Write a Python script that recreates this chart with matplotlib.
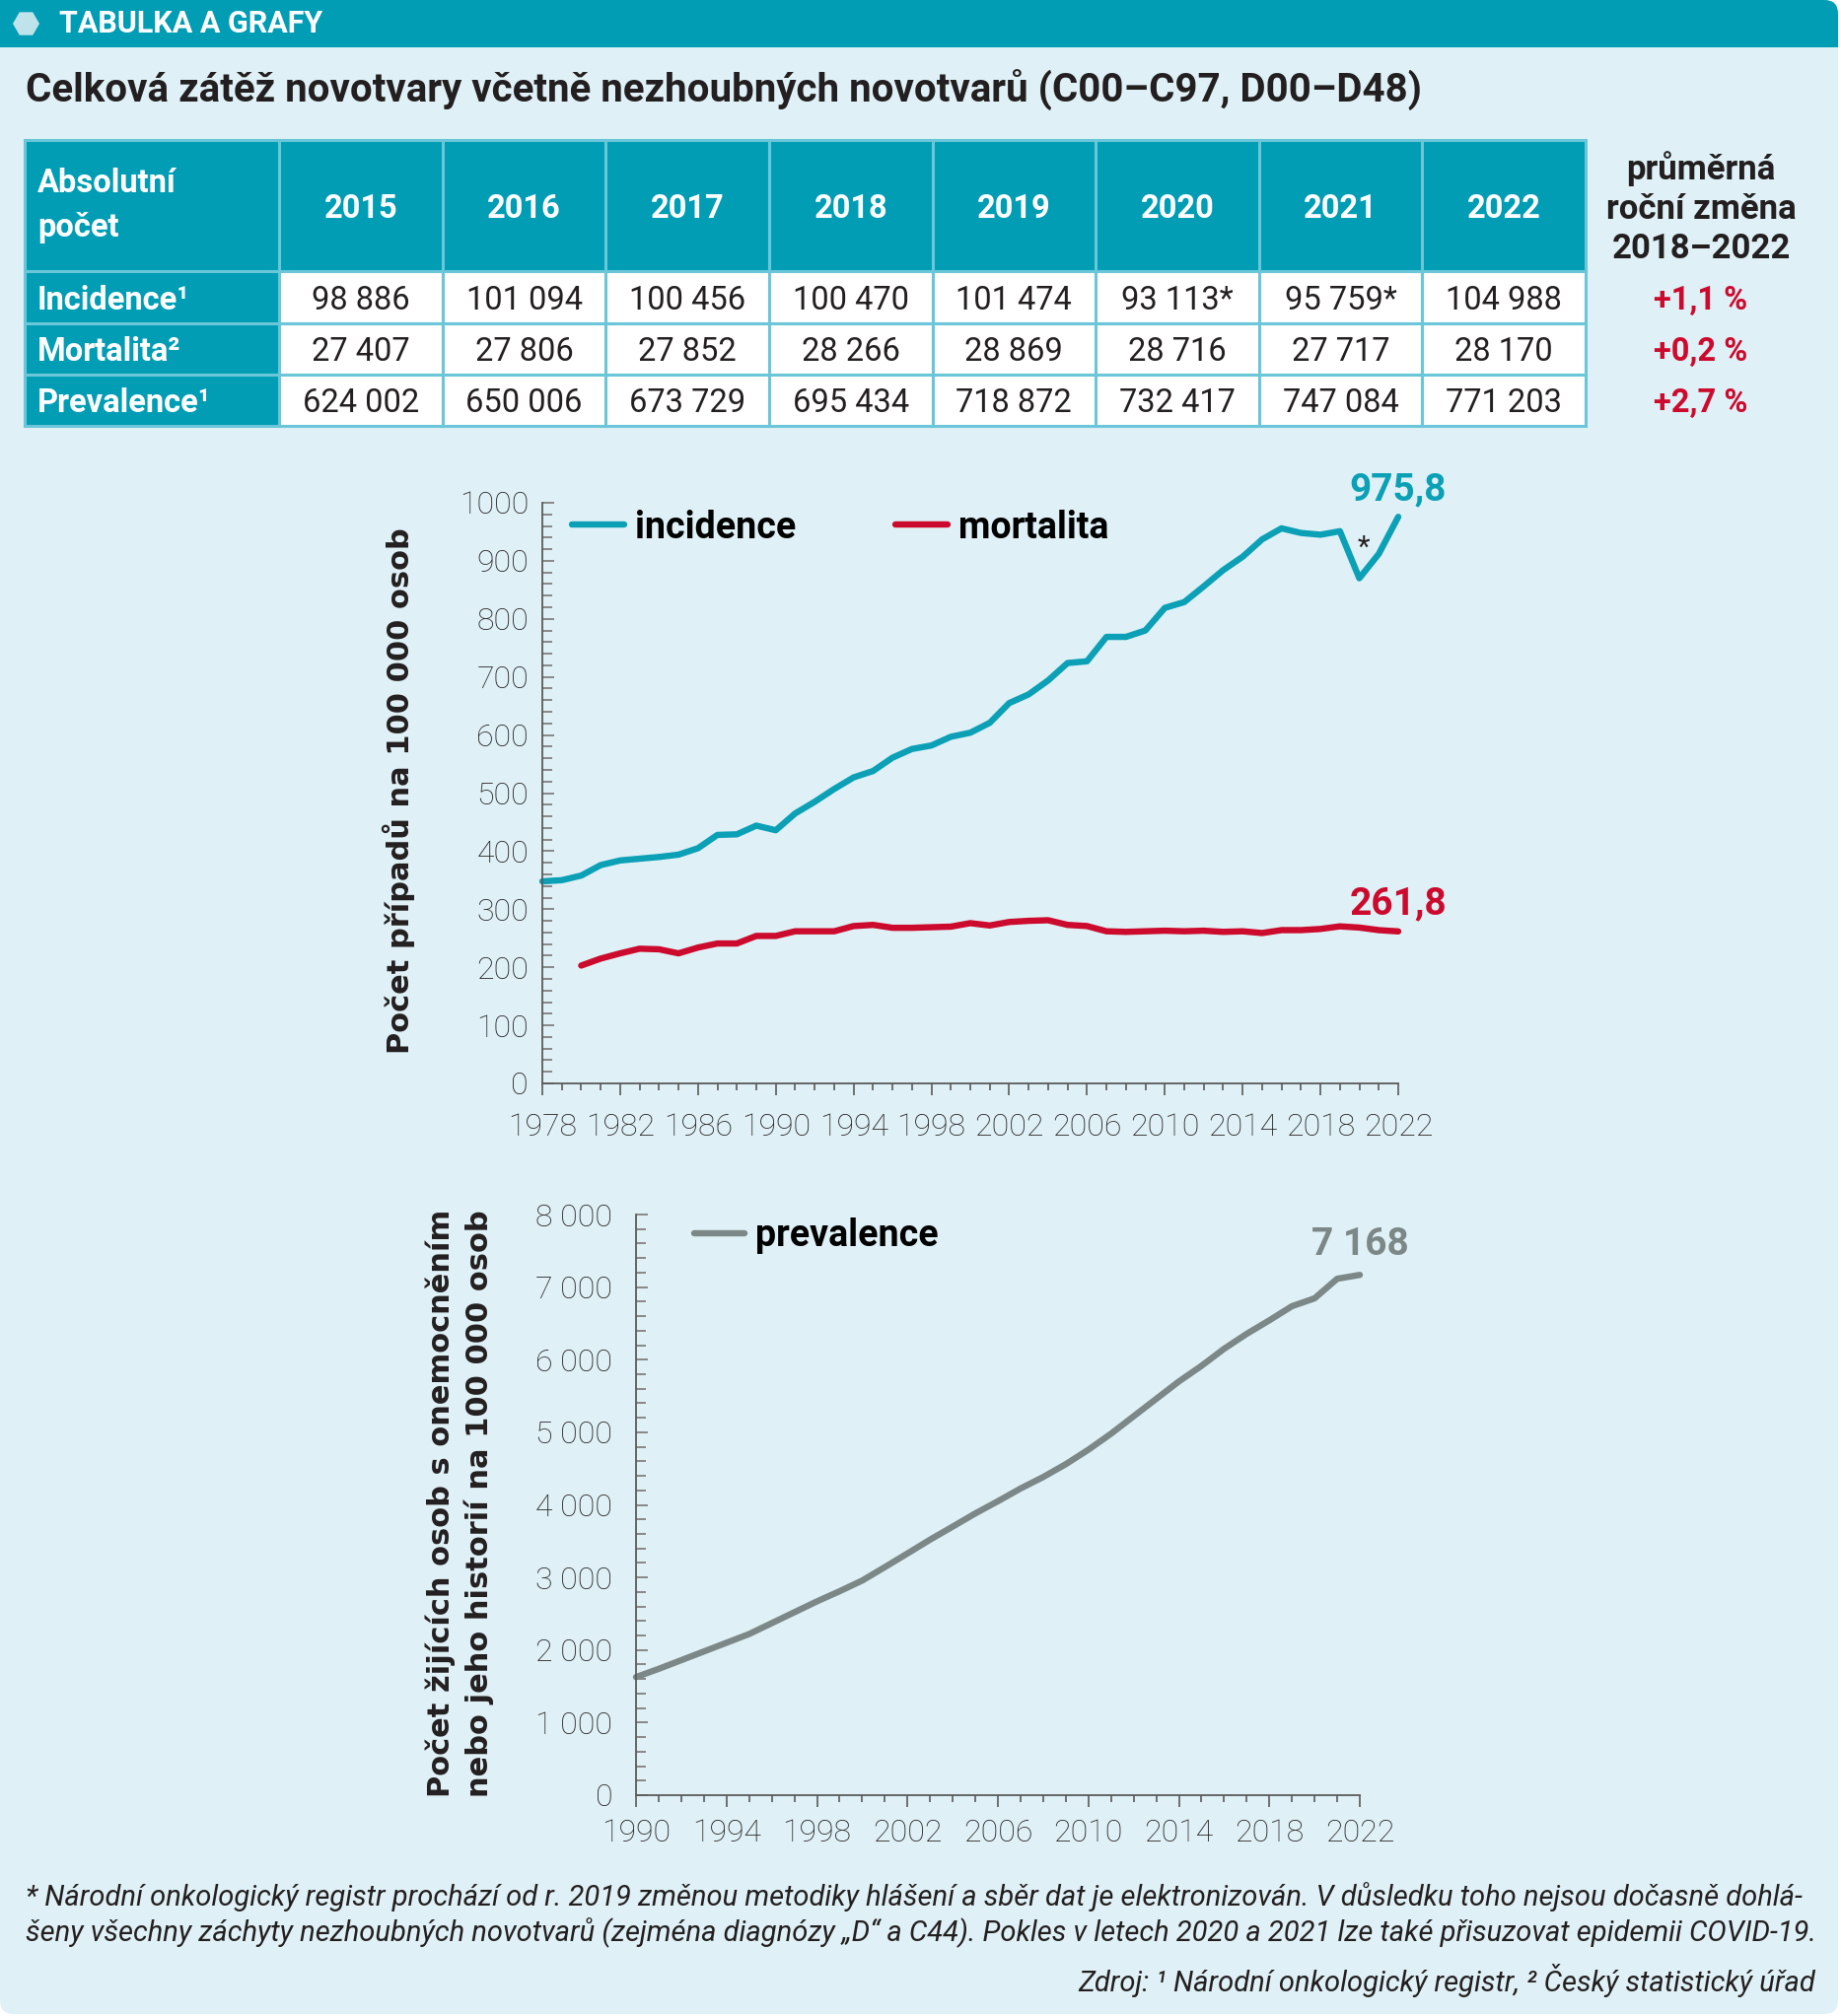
import matplotlib
matplotlib.use("Agg")
import matplotlib.pyplot as plt
from matplotlib.patches import FancyBboxPatch, Rectangle, RegularPolygon
from matplotlib.ticker import MultipleLocator, FuncFormatter
import numpy as np

plt.rcParams['font.family'] = ['Roboto', 'DejaVu Sans']

# -------------------------------------------------------------
# Data
# -------------------------------------------------------------
table_years = ['2015', '2016', '2017', '2018', '2019', '2020', '2021', '2022']
row_labels = ['Incidence¹', 'Mortalita²', 'Prevalence¹']
incidence_abs = ['98 886', '101 094', '100 456', '100 470', '101 474', '93 113*', '95 759*', '104 988']
mortality_abs = ['27 407', '27 806', '27 852', '28 266', '28 869', '28 716', '27 717', '28 170']
prevalence_abs = ['624 002', '650 006', '673 729', '695 434', '718 872', '732 417', '747 084', '771 203']
avg_change = ['+1,1 %', '+0,2 %', '+2,7 %']

years_inc = list(range(1978, 2023))
incidence = [348, 350, 358, 376, 384, 387, 390, 394, 405, 428,
             429, 444, 436, 465, 485, 507, 527, 538, 561, 576,
             582, 597, 604, 621, 655, 670, 694, 724, 727, 769,
             769, 780, 819, 829, 856, 884, 907, 937, 956, 948,
             945, 951, 870, 912, 975.8]

years_mort = list(range(1980, 2023))
mortality = [203, 215, 224, 232, 231, 224, 234, 241, 241, 254,
             254, 262, 262, 262, 271, 273, 268, 268, 269, 270,
             276, 272, 278, 280, 281, 273, 271, 262, 261, 262,
             263, 262, 263, 261, 262, 259, 264, 264, 266, 270.5,
             268.4, 264, 261.8]

years_prev = list(range(1990, 2023))
prevalence = [1627, 1740, 1860, 1980, 2100, 2220, 2370, 2520, 2670, 2810,
              2957, 3142, 3330, 3520, 3700, 3882, 4050, 4225, 4383, 4560,
              4760, 4980, 5220, 5460, 5700, 5915, 6150, 6356, 6542, 6737,
              6845, 7115, 7168]

# -------------------------------------------------------------
# Style
# -------------------------------------------------------------
TEAL = '#009DB5'
TEAL_LINE = '#0BA0B6'
RED = '#CC0A2D'
GRAY = '#7C8787'
BG = '#DFF1F6'
BORDER = '#6AC6D8'
DARK = '#231F20'
AXC = '#5a5a5a'

W, H = 1867, 2045
fig = plt.figure(figsize=(W / 100, H / 100), dpi=100)
fig.patch.set_facecolor('white')


def fx(px):
    return px / W


def fy(py):
    return 1 - py / H


# panel + header bar (inches), kept behind the axes
deco = dict(transform=fig.dpi_scale_trans, ec='none', zorder=-10)
fig.add_artist(FancyBboxPatch((0.0, 0.02), 18.64, 20.43,
                              boxstyle="round,pad=0,rounding_size=0.14", fc=BG, **deco))
fig.add_artist(FancyBboxPatch((0.0, 20.45 - 0.48), 18.64, 0.48,
                              boxstyle="round,pad=0,rounding_size=0.14", fc=TEAL, **deco))
fig.add_artist(Rectangle((0.0, 20.45 - 0.48), 18.4, 0.48, fc=TEAL, **deco))
fig.add_artist(Rectangle((0.0, 20.45 - 0.48), 18.64, 0.2, fc=TEAL, **deco))
fig.add_artist(RegularPolygon((0.265, 20.45 - 0.24), 6, radius=0.135, orientation=np.pi / 6,
                              transform=fig.dpi_scale_trans, fc='#BFE3EA', ec='none', zorder=-9))
fig.text(fx(60), fy(24), 'TABULKA A GRAFY', color='white', fontsize=22,
         fontweight='bold', va='center', ha='left')

fig.text(fx(26), fy(91), 'Celková zátěž novotvary včetně nezhoubných novotvarů (C00–C97, D00–D48)',
         color=DARK, fontsize=29, fontweight='bold', va='center', ha='left')

# -------------------------------------------------------------
# Table
# -------------------------------------------------------------
tax = fig.add_axes([0, 0, 1, 1])
tax.set_xlim(0, 1)
tax.set_ylim(0, 1)
tax.axis('off')

cell_text = [['Absolutní\npočet'] + table_years]
for lab, vals in zip(row_labels, [incidence_abs, mortality_abs, prevalence_abs]):
    cell_text.append([lab] + vals)

col_px = [284 - 25] + [166.2] * 8
tbl = tax.table(cellText=cell_text, colWidths=[c / W for c in col_px], cellLoc='center',
                bbox=[fx(25), fy(432), (1608 - 25) / W, (432 - 142) / H])
tbl.auto_set_font_size(False)
for (r, c), cell in tbl.get_celld().items():
    cell.set_edgecolor(BORDER)
    cell.set_linewidth(2.2)
    cell.set_height(133 if r == 0 else 52)
    txt = cell.get_text()
    txt.set_fontsize(23.5)
    if r == 0 or c == 0:
        cell.set_facecolor(TEAL)
        txt.set_color('white')
        txt.set_fontweight('bold')
    else:
        cell.set_facecolor('white')
        txt.set_color(DARK)
    if c == 0:
        cell._loc = 'left'
        cell.PAD = 0.05
        txt.set_ha('left')
    if r == 0 and c == 0:
        txt.set_linespacing(1.5)
    else:
        txt.set_va('center_baseline')

for i, line in enumerate(['průměrná', 'roční změna', '2018–2022']):
    fig.text(fx(1725), fy(171 + i * 41), line, color=DARK, fontsize=25,
             fontweight='bold', ha='center', va='center')
for i, val in enumerate(avg_change):
    fig.text(fx(1725), fy(305 + i * 52), val, color=RED, fontsize=23.5,
             fontweight='bold', ha='center', va='center')


def style_axis(ax):
    ax.set_facecolor('none')
    for s in ['top', 'right']:
        ax.spines[s].set_visible(False)
    for s in ['left', 'bottom']:
        ax.spines[s].set_color(AXC)
        ax.spines[s].set_linewidth(1.3)
    ax.tick_params(axis='y', which='major', direction='in', length=8.5, width=1.3, color='#808080')
    ax.tick_params(axis='y', which='minor', direction='in', length=7, width=1.3, color='#808080')
    ax.tick_params(axis='x', which='major', direction='out', length=8.6, width=1.2, color=AXC)
    ax.tick_params(axis='x', which='minor', direction='out', length=5, width=1.2, color=AXC)
    ax.tick_params(labelsize=23, labelcolor=DARK)
    for lab in ax.get_xticklabels() + ax.get_yticklabels():
        lab.set_fontweight('light')


# -------------------------------------------------------------
# Chart 1: incidence & mortality
# -------------------------------------------------------------
ax1 = fig.add_axes([fx(550), fy(1099), (1418 - 550) / W, (1099 - 510) / H])
ax1.plot(years_inc, incidence, color=TEAL_LINE, lw=4.6, label='incidence',
         clip_on=False, solid_capstyle='round')
ax1.plot(years_mort, mortality, color=RED, lw=4.6, label='mortalita',
         clip_on=False, solid_capstyle='round')
ax1.set_xlim(1978, 2022)
ax1.set_ylim(0, 1000)
ax1.set_xticks(list(range(1978, 2023, 4)))
ax1.set_xticks(years_inc, minor=True)
ax1.set_yticks(list(range(0, 1001, 100)))
ax1.yaxis.set_minor_locator(MultipleLocator(20))
style_axis(ax1)
ax1.tick_params(axis='y', pad=10)
ax1.tick_params(axis='x', pad=13)

ax1.legend(loc='center left', bbox_to_anchor=(fx(580), fy(535)), bbox_transform=fig.transFigure,
           ncol=2, frameon=False, borderpad=0, borderaxespad=0, handlelength=1.4,
           handletextpad=0.3, columnspacing=2.7, prop={'size': 27, 'weight': 'bold'})

ax1.text(2022, 1022, '975,8', color=TEAL_LINE, fontsize=28, fontweight='bold',
         ha='center', va='center', clip_on=False)
ax1.text(2022, 310, '261,8', color=RED, fontsize=28, fontweight='bold',
         ha='center', va='center', clip_on=False)
ax1.text(2020.2, 922, '*', color=DARK, fontsize=21, ha='center', va='center')

fig.text(fx(404), fy(802), 'Počet případů na 100 000 osob', rotation=90, ha='center', va='center',
         fontsize=22, fontweight='bold', family='DejaVu Sans', color=DARK)

# -------------------------------------------------------------
# Chart 2: prevalence
# -------------------------------------------------------------
ax2 = fig.add_axes([fx(645), fy(1821), (1379 - 645) / W, (1821 - 1232) / H])
ax2.plot(years_prev, prevalence, color=GRAY, lw=4.6, label='prevalence',
         clip_on=False, solid_capstyle='round')
ax2.set_xlim(1990, 2022)
ax2.set_ylim(0, 8000)
ax2.set_xticks(list(range(1990, 2023, 4)))
ax2.set_xticks(years_prev, minor=True)
ax2.set_yticks(list(range(0, 8001, 1000)))
ax2.yaxis.set_minor_locator(MultipleLocator(200))
ax2.yaxis.set_major_formatter(FuncFormatter(lambda v, p: f"{int(v):,}".replace(',', ' ')))
style_axis(ax2)
ax2.tick_params(axis='y', pad=17)
ax2.tick_params(axis='x', pad=9)

ax2.legend(loc='center left', bbox_to_anchor=(fx(704), fy(1254)), bbox_transform=fig.transFigure,
           frameon=False, borderpad=0, borderaxespad=0, handlelength=1.35,
           handletextpad=0.3, prop={'size': 27, 'weight': 'bold'})

ax2.text(2022, 7580, '7 168', color=GRAY, fontsize=28, fontweight='bold',
         ha='center', va='center', clip_on=False)

fig.text(fx(447), fy(1525), 'Počet žijících osob s onemocněním', rotation=90, ha='center',
         va='center', fontsize=22, fontweight='bold', family='DejaVu Sans', color=DARK)
fig.text(fx(486), fy(1525), 'nebo jeho historií na 100 000 osob', rotation=90, ha='center',
         va='center', fontsize=22, fontweight='bold', family='DejaVu Sans', color=DARK)

# -------------------------------------------------------------
# Footer
# -------------------------------------------------------------
foot1 = ('* Národní onkologický registr prochází od r. 2019 změnou metodiky hlášení a sběr dat '
         'je elektronizován. V důsledku toho nejsou dočasně dohlá-')
foot2 = ('šeny všechny záchyty nezhoubných novotvarů (zejména diagnózy „D“ a C44). '
         'Pokles v letech 2020 a 2021 lze také přisuzovat epidemii COVID-19.')
source = 'Zdroj: ¹ Národní onkologický registr, ² Český statistický úřad'
fig.text(fx(26), fy(1924), foot1, fontsize=21, style='italic', color=DARK, ha='left', va='center')
fig.text(fx(26), fy(1961), foot2, fontsize=21, style='italic', color=DARK, ha='left', va='center')
fig.text(fx(1841), fy(2009), source, fontsize=21, style='italic', color=DARK, ha='right', va='center')

fig.savefig('out.png', dpi=100, facecolor=fig.get_facecolor())
